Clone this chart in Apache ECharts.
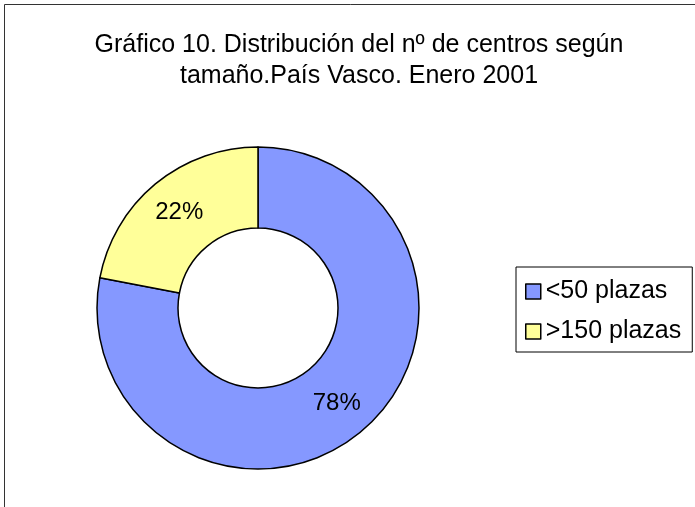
<!DOCTYPE html>
<html>
<head>
<meta charset="utf-8">
<script src="https://cdn.jsdelivr.net/npm/echarts@6/dist/echarts.min.js"></script>
<style>
  html, body { margin: 0; padding: 0; background: #fff; }
  #main { width: 695px; height: 507px; }
</style>
</head>
<body>
<div id="main"></div>
<script>
  // datos del gráfico
  const categorias = ['<50 plazas', '>150 plazas'];
  const valores = [78, 22];
  const colores = ['#8598ff', '#ffff99'];
  const titulo = 'Gráfico 10. Distribución del nº de centros según\ntamaño.País Vasco. Enero 2001';

  let myChart = echarts.init(document.getElementById('main'));
  let option = {
    animation: false,
    backgroundColor: '#fff',
    textStyle: { fontFamily: 'Liberation Sans, Arial, sans-serif' },
    graphic: [
      {
        type: 'rect',
        shape: { x: 4.5, y: 4.5, width: 700, height: 520 },
        style: { fill: 'none', stroke: '#333', lineWidth: 1 },
        silent: true
      }
    ],
    title: {
      text: titulo,
      left: 354,
      top: 25,
      textAlign: 'center',
      textStyle: {
        fontSize: 25,
        fontWeight: 'normal',
        color: '#000',
        lineHeight: 31,
        fontFamily: 'Liberation Sans, Arial, sans-serif'
      }
    },
    legend: {
      orient: 'vertical',
      left: 516,
      top: 267,
      padding: [12, 11, 8, 9],
      itemGap: 15,
      itemWidth: 15,
      itemHeight: 15,
      icon: 'rect',
      borderColor: '#000',
      borderWidth: 1,
      borderRadius: 0,
      itemStyle: { borderColor: '#000', borderWidth: 1.5 },
      textStyle: { fontSize: 25, color: '#000' },
      data: categorias
    },
    series: [
      {
        type: 'pie',
        center: [258, 308],
        radius: [80, 161],
        startAngle: 90,
        clockwise: true,
        avoidLabelOverlap: false,
        itemStyle: { borderColor: '#000', borderWidth: 1.5 },
        label: {
          show: true,
          position: 'inside',
          formatter: '{d}%',
          fontSize: 24,
          color: '#000'
        },
        labelLine: { show: false },
        emphasis: { disabled: true },
        data: categorias.map((c, i) => ({
          name: c,
          value: valores[i],
          itemStyle: { color: colores[i] }
        }))
      }
    ]
  };
  myChart.setOption(option);
</script>
</body>
</html>
